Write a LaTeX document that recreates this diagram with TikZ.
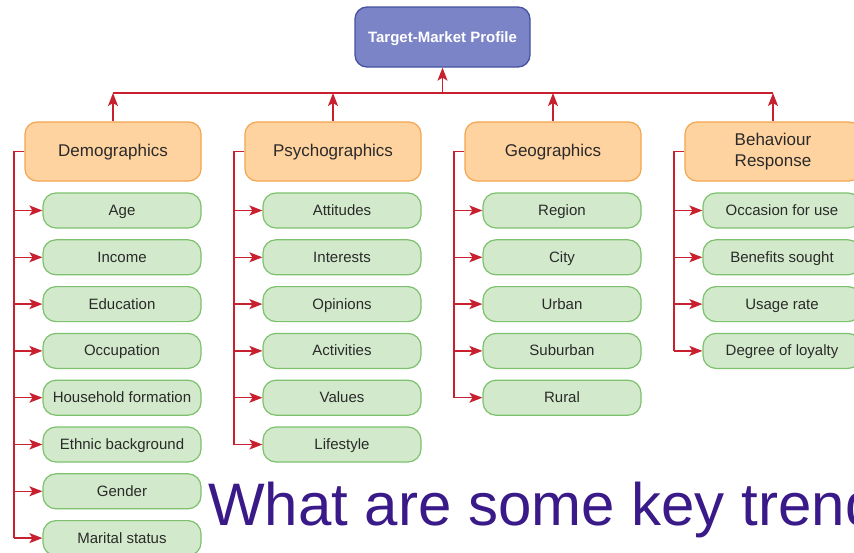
\documentclass[tikz,border=0pt]{standalone}
\usepackage{fontspec}
\setmainfont{Liberation Sans}
\usetikzlibrary{arrows.meta}
\definecolor{redln}{HTML}{C8202F}
\definecolor{orfill}{HTML}{FFD3A0}
\definecolor{ordraw}{HTML}{F2A650}
\definecolor{grfill}{HTML}{D2EACB}
\definecolor{grdraw}{HTML}{7DC16E}
\definecolor{blfill}{HTML}{7C84C8}
\definecolor{bldraw}{HTML}{46529F}
\definecolor{txt}{HTML}{2A2A2A}
\definecolor{titlecol}{HTML}{3A1A88}
\tikzset{
  topbox/.style={draw=bldraw, fill=blfill, line width=1.3pt, rounded corners=12pt,
    minimum width=175pt, minimum height=60pt, inner sep=0pt, text=white,
    text height=11pt, text depth=1pt,
    font=\fontsize{15}{18}\selectfont\bfseries},
  catbox/.style={draw=ordraw, fill=orfill, line width=1.2pt, rounded corners=12pt,
    minimum width=176pt, minimum height=59pt, inner sep=0pt, text=txt, align=center,
    font=\fontsize{17}{21}\selectfont},
  catone/.style={catbox, text height=12pt, text depth=1.5pt},
  itembox/.style={draw=grdraw, fill=grfill, line width=1.2pt, rounded corners=13pt,
    minimum width=158pt, minimum height=35pt, inner sep=0pt, text=txt,
    text height=11pt, text depth=1pt,
    font=\fontsize{15}{18}\selectfont},
  redline/.style={draw=redln, line width=1.4pt},
  redarrow/.style={redline, -{Stealth[length=13pt,width=10pt,inset=3pt]}},
}
\begin{document}
\begin{tikzpicture}[x=1pt,y=-1pt]
\useasboundingbox (0,0) rectangle (854,552);
\clip (0,0) rectangle (854,552);
\fill[white] (0,0) rectangle (854,552);

\node[topbox] (top) at (442.5,37) {Target-Market Profile};
\coordinate (bus) at (442.5,93);

\node[catone] (c1) at (113,151.5) {Demographics};
\node[catone] (c2) at (333,151.5) {Psychographics};
\node[catone] (c3) at (553,151.5) {Geographics};
\node[catbox] (c4) at (773,151.5) {Behaviour\\Response};

% bus
\draw[redline] (c1 |- bus) -- (c4 |- bus);
\draw[redarrow] (bus) -- (top.south);
\foreach \c in {c1,c2,c3,c4} \draw[redarrow] (\c.north) -- (\c |- bus);

% spines
\coordinate (s1) at (14,151.5);
\coordinate (s2) at (234,151.5);
\coordinate (s3) at (454,151.5);
\coordinate (s4) at (674,151.5);

% Demographics items
\foreach \t [count=\i] in {Age,Income,Education,Occupation,Household formation,Ethnic background,Gender,Marital status}
  \node[itembox] (d\i) at (122,{210.5+46.8*(\i-1)}) {\t};
% Psychographics items
\foreach \t [count=\i] in {Attitudes,Interests,Opinions,Activities,Values,Lifestyle}
  \node[itembox] (p\i) at (342,{210.5+46.8*(\i-1)}) {\t};
% Geographics items
\foreach \t [count=\i] in {Region,City,Urban,Suburban,Rural}
  \node[itembox] (g\i) at (562,{210.5+46.8*(\i-1)}) {\t};
% Behaviour items
\foreach \t [count=\i] in {Occasion for use,Benefits sought,Usage rate,Degree of loyalty}
  \node[itembox] (b\i) at (782,{210.5+46.8*(\i-1)}) {\t};

\draw[redline] (c1.west) -- (s1) -- (s1 |- d8.west);
\foreach \i in {1,...,8} \draw[redarrow] (s1 |- d\i.west) -- (d\i.west);
\draw[redline] (c2.west) -- (s2) -- (s2 |- p6.west);
\foreach \i in {1,...,6} \draw[redarrow] (s2 |- p\i.west) -- (p\i.west);
\draw[redline] (c3.west) -- (s3) -- (s3 |- g5.west);
\foreach \i in {1,...,5} \draw[redarrow] (s3 |- g\i.west) -- (g\i.west);
\draw[redline] (c4.west) -- (s4) -- (s4 |- b4.west);
\foreach \i in {1,...,4} \draw[redarrow] (s4 |- b\i.west) -- (b\i.west);

\node[anchor=base west, inner sep=0pt, text=titlecol, font=\fontsize{60}{72}\selectfont] (q) at (208,525) {What are some key trends};
\end{tikzpicture}
\end{document}
